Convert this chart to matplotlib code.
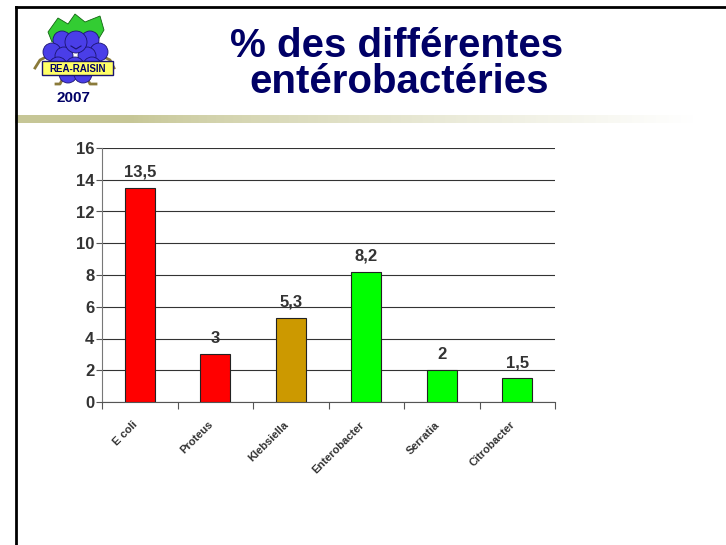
import numpy as np
import matplotlib.pyplot as plt
from matplotlib.patches import Circle, Rectangle, Polygon

plt.rcParams['font.family'] = ['Liberation Sans', 'DejaVu Sans']

categories = ['E coli', 'Proteus', 'Klebsiella', 'Enterobacter', 'Serratia', 'Citrobacter']
values = [13.5, 3, 5.3, 8.2, 2, 1.5]
value_labels = ['13,5', '3', '5,3', '8,2', '2', '1,5']
colors = ['#ff0000', '#ff0000', '#cc9900', '#00ff00', '#00ff00', '#00ff00']
yticks = [0, 2, 4, 6, 8, 10, 12, 14, 16]

fig = plt.figure(figsize=(7.26, 5.45), dpi=100)

# slide decoration in pixel coordinates
deco = fig.add_axes([0, 0, 1, 1])
deco.set_xlim(0, 726)
deco.set_ylim(545, 0)
deco.axis('off')
deco.plot([16, 726], [7, 7], color='black', lw=2)
deco.plot([16, 16], [7, 545], color='black', lw=2)

# gradient bar under the header
grad = np.ones((1, 700, 4))
base = np.array([0.78, 0.78, 0.59])
for i in range(700):
    x = 15 + i
    t = 0 if x < 133 else min(1.0, (x - 133) / 560.0) ** 0.8
    grad[0, i, :3] = base * (1 - t) + t
deco.imshow(grad, extent=[15, 715, 123, 115], aspect='auto', zorder=1)

# logo: grape cluster
deco.add_patch(Polygon([[48, 32], [58, 18], [68, 24], [75, 14], [85, 22], [100, 16], [104, 30], [98, 40], [52, 42]],
                       closed=True, fc='#33cc33', ec='#116611', lw=0.6, zorder=2))
deco.plot([50, 40, 35], [55, 60, 68], color='#8a7a3a', lw=2, zorder=2)
deco.plot([100, 110, 114], [55, 60, 68], color='#8a7a3a', lw=2, zorder=2)
deco.plot([64, 60, 56], [76, 84, 84], color='#8a7a3a', lw=2, zorder=2)
deco.plot([86, 90, 96], [76, 84, 84], color='#8a7a3a', lw=2, zorder=2)
grapes = [(62, 40), (90, 40), (52, 52), (99, 52), (64, 56), (87, 56), (58, 66), (75, 66), (92, 66), (68, 74), (83, 74)]
for gx, gy in grapes:
    deco.add_patch(Circle((gx, gy), 9, fc='#4a3ee8', ec='#1a1470', lw=0.6, zorder=3))
deco.add_patch(Circle((76, 42), 11, fc='#4a3ee8', ec='#1a1470', lw=0.6, zorder=4))
deco.plot([71, 76, 81], [46, 49, 46], color='#1a1470', lw=0.8, zorder=5)
deco.add_patch(Rectangle((42, 61), 71, 14, fc='#ffff66', ec='#1a1470', lw=1, zorder=6))
deco.text(77.5, 68.5, 'REA-RAISIN', ha='center', va='center', fontsize=7, fontweight='bold',
          color='#000066', zorder=7)
deco.text(73, 98, '2007', ha='center', va='center', fontsize=11, fontweight='bold', color='#000066')

# title
deco.text(397, 57, '% des différentes', ha='center', va='baseline', fontsize=29,
          fontweight='bold', color='#000066')
deco.text(399, 93, 'entérobactéries', ha='center', va='baseline', fontsize=29,
          fontweight='bold', color='#000066')

# bar chart
ax = fig.add_axes([102 / 726, 1 - 402 / 545, 453 / 726, 254 / 545])
x = np.arange(len(categories))
ax.bar(x, values, width=0.4, color=colors, edgecolor='#222222', linewidth=0.8, zorder=3)
for xi, v, lab in zip(x, values, value_labels):
    ax.text(xi, v + 0.5, lab, ha='center', va='bottom', fontsize=12, fontweight='bold', color='#333333')

ax.set_xlim(-0.5, len(categories) - 0.5)
ax.set_ylim(0, 16)
ax.set_yticks(yticks)
ax.set_yticklabels([str(t) for t in yticks], fontsize=12, fontweight='bold', color='#333333')
ax.yaxis.grid(True, color='#333333', lw=0.8)
ax.set_axisbelow(True)
ax.tick_params(axis='y', length=4.5, width=0.8, color='#555555', pad=1)

ax.set_xticks(np.arange(len(categories) + 1) - 0.5)
ax.set_xticklabels([])
ax.tick_params(axis='x', length=5, width=0.8, color='#555555', direction='out')
for xi, lab in zip(x, categories):
    ax.text(xi - 0.1, -1.1, lab, rotation=45, ha='right', va='top', rotation_mode='anchor',
            fontsize=8, fontweight='bold', color='#333333')

for side in ['top', 'right']:
    ax.spines[side].set_visible(False)
ax.spines['left'].set_color('#777777')
ax.spines['bottom'].set_color('#555555')

fig.savefig('out.png', dpi=100)
